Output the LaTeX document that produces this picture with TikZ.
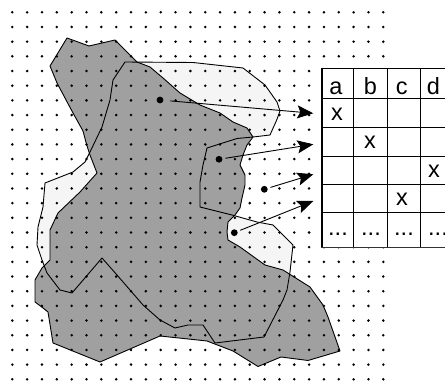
\documentclass[tikz,border=0pt]{standalone}
\usepackage{fontspec}
\setmainfont{Liberation Sans}
\usetikzlibrary{arrows.meta}
\definecolor{darkfill}{HTML}{A0A0A0}
\definecolor{lightfill}{HTML}{F5F5F5}
\tikzset{
  outline/.style={draw=black, line width=0.9pt, line join=round},
  griddot/.style={circle, fill=black, inner sep=0pt, minimum size=2.8pt},
  bigdot/.style={circle, fill=black, inner sep=0pt, minimum size=6.8pt, outer sep=3pt},
  link/.style={draw=black, line width=0.9pt, -{Stealth[length=16pt, width=13pt, inset=3pt]}},
  cellline/.style={draw=black, line width=0.9pt},
  celltext/.style={anchor=base, inner sep=0pt, font=\fontsize{23.5}{24}\selectfont},
}
\begin{document}
\begin{tikzpicture}[x=1pt, y=-1pt]
\useasboundingbox (0,0) rectangle (445,382);
\clip (0,0) rectangle (445,382);
% light polygon
\path[fill=lightfill] (125,62) -- (193,62.5) -- (243,68) -- (265,85) -- (277,102) -- (280,111) -- (276.7,120) -- (270,135) -- (253,137) -- (237,138.5) -- (207,148) -- (203,165) -- (200,182) -- (200,207) -- (232,215) -- (257,222) -- (273,225) -- (293,245) -- (290,272) -- (287,290) -- (283,300) -- (264,337) -- (215,343) -- (203,325) -- (188,325) -- (175,328) -- (160,320) -- (143,305) -- (117,275) -- (102,258) -- (72,293) -- (60,290) -- (47,273) -- (42,260) -- (37,245) -- (38,227) -- (43,207) -- (45,183) -- (73,172) -- (85,162) -- (90,152) -- (102,127) -- (110,100) -- (113,80) -- cycle;
% dark polygon
\path[fill=darkfill] (67,38) -- (89,46) -- (115,40) -- (137,62) -- (150,67) -- (163,78) -- (180,93) -- (200,105) -- (220,113) -- (233,122) -- (247,128) -- (253,137) -- (247,145) -- (243,155) -- (240,165) -- (245,175) -- (245,185) -- (242,198) -- (240,208) -- (235,215) -- (228,222) -- (227,232) -- (228,240) -- (240,247) -- (265,265) -- (283,270) -- (310,287) -- (323,305) -- (328,317) -- (340,351) -- (308,360.5) -- (281,357) -- (258,366.5) -- (233,351) -- (207,341) -- (160,336) -- (100,362) -- (53,343) -- (48,312) -- (43,308) -- (35,302) -- (35,280) -- (42,268) -- (50,260) -- (50,230) -- (58,213) -- (80,192) -- (97,173) -- (90,155) -- (86.7,145) -- (83,131) -- (73,113) -- (57,83) -- (50,66) -- cycle;
% outlines
\draw[outline] (125,62) -- (193,62.5) -- (243,68) -- (265,85) -- (277,102) -- (280,111) -- (276.7,120) -- (270,135) -- (253,137) -- (237,138.5) -- (207,148) -- (203,165) -- (200,182) -- (200,207) -- (232,215) -- (257,222) -- (273,225) -- (293,245) -- (290,272) -- (287,290) -- (283,300) -- (264,337) -- (215,343) -- (203,325) -- (188,325) -- (175,328) -- (160,320) -- (143,305) -- (117,275) -- (102,258) -- (72,293) -- (60,290) -- (47,273) -- (42,260) -- (37,245) -- (38,227) -- (43,207) -- (45,183) -- (73,172) -- (85,162) -- (90,152) -- (102,127) -- (110,100) -- (113,80) -- cycle;
\draw[outline] (67,38) -- (89,46) -- (115,40) -- (137,62) -- (150,67) -- (163,78) -- (180,93) -- (200,105) -- (220,113) -- (233,122) -- (247,128) -- (253,137) -- (247,145) -- (243,155) -- (240,165) -- (245,175) -- (245,185) -- (242,198) -- (240,208) -- (235,215) -- (228,222) -- (227,232) -- (228,240) -- (240,247) -- (265,265) -- (283,270) -- (310,287) -- (323,305) -- (328,317) -- (340,351) -- (308,360.5) -- (281,357) -- (258,366.5) -- (233,351) -- (207,341) -- (160,336) -- (100,362) -- (53,343) -- (48,312) -- (43,308) -- (35,302) -- (35,280) -- (42,268) -- (50,260) -- (50,230) -- (58,213) -- (80,192) -- (97,173) -- (90,155) -- (86.7,145) -- (83,131) -- (73,113) -- (57,83) -- (50,66) -- cycle;
% dot grid
\foreach \i in {0,...,25}{
  \foreach \j in {0,...,25}{
    \node[griddot] at ({12.3+\i*14.84},{12.3+\j*14.68}) {};
  }
}
% table
\path[fill=white] (321,68.3) rectangle (460,247.5);
\foreach \yy in {68.3,98.3,127.3,156,184.3,212.3}{
  \draw[cellline] (321,\yy) -- (460,\yy);
}
\foreach \xx in {353.3,387.3,420.7}{
  \draw[cellline] (\xx,68.3) -- (\xx,247.5);
}
\draw[black, line width=2pt] (321.8,67.9) -- (321.8,248.3);
\draw[black!80, line width=1.8pt] (321,247.6) -- (460,247.6);
\node[celltext] (ha) at (336,94.3) {a};
\node[celltext] (hb) at (370.5,94.3) {b};
\node[celltext] (hc) at (401.7,94.3) {c};
\node[celltext] (hd) at (433.3,94.3) {d};
\node[celltext] (x1) at (337,120.7) {x};
\node[celltext] (x2) at (370,149) {x};
\node[celltext] (x3) at (434,177.3) {x};
\node[celltext] (x4) at (402,205.7) {x};
\node[celltext] (e1) at (338,236) {...};
\node[celltext] (e2) at (371,236) {...};
\node[celltext] (e3) at (404,236) {...};
\node[celltext] (e4) at (438,236) {...};
% points and arrows
\node[bigdot] (p1) at (160,100) {};
\node[bigdot] (p2) at (219,159.3) {};
\node[bigdot] (p3) at (264.3,189.3) {};
\node[bigdot] (p4) at (234.3,232.7) {};
\coordinate (t1) at (313.3,113.3);
\coordinate (t2) at (313.3,144.3);
\coordinate (t3) at (313.3,174.3);
\coordinate (t4) at (313.3,201);
\draw[link, shorten <=4pt] (p1) -- (t1);
\draw[link] (p2) -- (t2);
\draw[link] (p3) -- (t3);
\draw[link] (p4) -- (t4);
\end{tikzpicture}
\end{document}
